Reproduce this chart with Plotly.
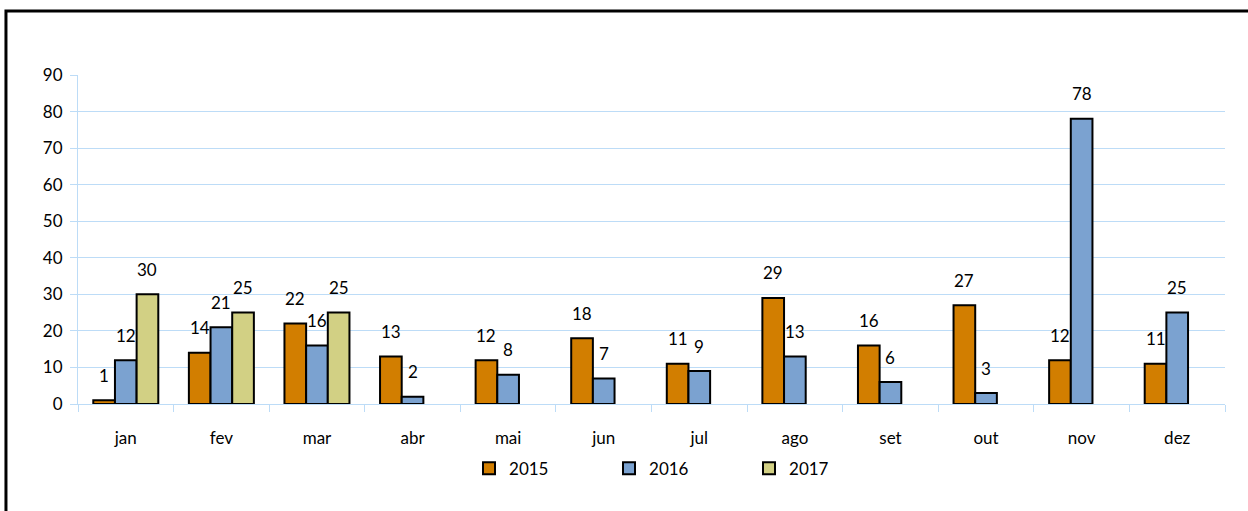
import plotly.graph_objects as go

months = ["jan", "fev", "mar", "abr", "mai", "jun", "jul", "ago", "set", "out", "nov", "dez"]
v2015 = [1, 14, 22, 13, 12, 18, 11, 29, 16, 27, 12, 11]
v2016 = [12, 21, 16, 2, 8, 7, 9, 13, 6, 3, 78, 25]
v2017 = [30, 25, 25, None, None, None, None, None, None, None, None, None]
y_ticks = [0, 10, 20, 30, 40, 50, 60, 70, 80, 90]

series = [
    ("2015", v2015, "#D27E00"),
    ("2016", v2016, "#7BA2D0"),
    ("2017", v2017, "#D2D084"),
]

FONT = "Lato, 'Liberation Sans', sans-serif"
GRID = "#BDDCF7"

W, H = 1248, 511
ML, MR, MT, MB = 78, 23, 75, 107
BARGAP = 0.32
plot_w = W - ML - MR
bar_px = plot_w / len(months) * (1 - BARGAP) / len(series)

fig = go.Figure()
annotations = []
for k, (name, vals, color) in enumerate(series):
    fig.add_trace(go.Bar(
        x=months, y=vals, name=name,
        marker=dict(color=color, line=dict(color="black", width=2)),
        cliponaxis=False,
    ))
    for m, v in zip(months, vals):
        if v is None:
            continue
        annotations.append(dict(
            x=m, y=v, xref="x", yref="y", text=str(v), showarrow=False,
            xanchor="center", yanchor="middle",
            xshift=(k - (len(series) - 1) / 2) * bar_px, yshift=25,
            font=dict(family=FONT, size=17, color="black"),
        ))

fig.update_layout(
    width=W, height=H,
    margin=dict(l=ML, r=MR, t=MT, b=MB),
    paper_bgcolor="white", plot_bgcolor="white",
    barmode="group", bargap=BARGAP, bargroupgap=0,
    font=dict(family=FONT, size=17, color="black"),
    showlegend=True,
    legend=dict(orientation="h", x=0.524, xanchor="center", y=-0.142, yanchor="top",
                font=dict(family=FONT, size=17), entrywidth=95, traceorder="normal"),
    annotations=annotations,
    shapes=[dict(type="rect", xref="paper", yref="paper",
                 x0=-0.0628, x1=1.2, y0=-0.6, y1=1.1945,
                 line=dict(color="black", width=3), fillcolor="rgba(0,0,0,0)", layer="above")],
)
fig.update_xaxes(
    showgrid=False, showline=True, linecolor=GRID, linewidth=1,
    ticks="outside", tickson="boundaries", ticklen=7, tickcolor=GRID,
    ticklabelstandoff=19, tickfont=dict(size=17),
)
fig.update_yaxes(
    range=[0, 90], tickvals=y_ticks, showgrid=True, gridcolor=GRID, gridwidth=1,
    showline=True, linecolor=GRID, linewidth=1, ticks="outside", ticklen=7, tickcolor=GRID,
    ticklabelstandoff=4, zeroline=False, tickfont=dict(size=17),
)

fig.write_html("out.html", config={"displayModeBar": False},
               post_script="document.body.style.margin='0px';")
